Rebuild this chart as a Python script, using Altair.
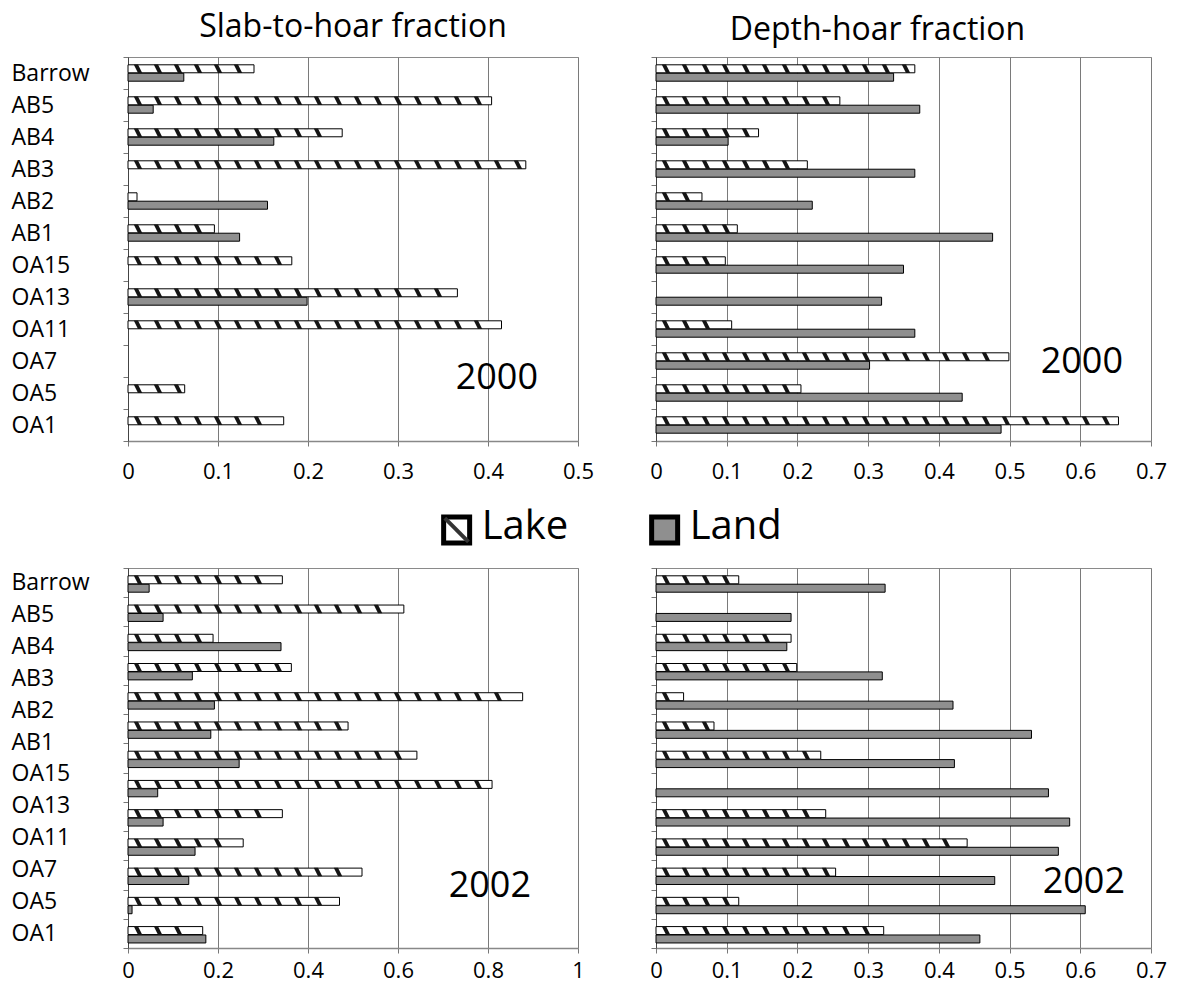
import altair as alt
import pandas as pd

FONT = "Open Sans"
LAND_GRAY = "#8f8f8f"

# Site labels, listed top to bottom
SITES = ["Barrow", "AB5", "AB4", "AB3", "AB2", "AB1",
         "OA15", "OA13", "OA11", "OA7", "OA5", "OA1"]

# 2000: one bar group per site
ROWS_2000 = SITES
# 2002: thirteen bar groups under the same twelve labels
ROWS_2002 = ["g1", "g2", "g3", "g4", "g5", "g6", "g7",
             "g8", "g9", "g10", "g11", "g12", "g13"]

# Slab-to-hoar fraction, 2000
SLAB_2000_LAKE = [0.140, 0.404, 0.238, 0.442, 0.010, 0.096, 0.182, 0.366, 0.415, None, 0.063, 0.173]
SLAB_2000_LAND = [0.062, 0.028, 0.162, None, 0.155, 0.124, None, 0.199, None, None, None, None]

# Depth-hoar fraction, 2000
DEPTH_2000_LAKE = [0.366, 0.260, 0.145, 0.214, 0.065, 0.115, 0.098, None, 0.107, 0.499, 0.205, 0.654]
DEPTH_2000_LAND = [0.336, 0.373, 0.102, 0.366, 0.221, 0.476, 0.350, 0.319, 0.366, 0.302, 0.433, 0.488]

# Slab-to-hoar fraction, 2002
SLAB_2002_LAKE = [0.343, 0.613, 0.189, 0.363, 0.877, 0.489, 0.642, 0.809, 0.343, 0.256, 0.520, 0.470, 0.166]
SLAB_2002_LAND = [0.047, 0.078, 0.340, 0.143, 0.192, 0.184, 0.247, 0.066, 0.078, 0.149, 0.135, 0.009, 0.173]

# Depth-hoar fraction, 2002
DEPTH_2002_LAKE = [0.117, None, 0.191, 0.199, 0.039, 0.082, 0.233, None, 0.240, 0.440, 0.254, 0.117, 0.322]
DEPTH_2002_LAND = [0.324, 0.191, 0.185, 0.320, 0.420, 0.531, 0.422, 0.555, 0.585, 0.569, 0.479, 0.607, 0.458]

# Axis tick values
TICKS_05 = [0, 0.1, 0.2, 0.3, 0.4, 0.5]
TICKS_07 = [0, 0.1, 0.2, 0.3, 0.4, 0.5, 0.6, 0.7]
TICKS_10 = [0, 0.2, 0.4, 0.6, 0.8, 1.0]

KINDS = ["Lake", "Land"]

# slanted "\" dash used for the hatched lake bars
DASH_SHAPE = "M-1,-1 L0,-1 L1,1 L0,1 Z"
SQUARE_SHAPE = "M-1,-1 H1 V1 H-1 Z"
DIAG_SHAPE = "M-1,-1 L1,1"


def long_frame(rows, lake, land):
    recs = []
    for r, a, b in zip(rows, lake, land):
        if a is not None:
            recs.append({"row": r, "kind": "Lake", "value": a})
        if b is not None:
            recs.append({"row": r, "kind": "Land", "value": b})
    return pd.DataFrame(recs)


def panel(rows, lake, land, xmax, ticks, width, height, year, year_row,
          year_dx, year_dy, group_pad, x_label_pad, labels=None,
          label_pad=0.5, title=None, title_y=-45, title_dx=0):
    df = long_frame(rows, lake, land)
    xscale = alt.Scale(domain=[0, xmax], nice=False, zero=True)
    xaxis = alt.Axis(values=ticks, format="~g", title=None, grid=True,
                     gridColor="#7a7a7a", gridWidth=1, tickSize=5,
                     tickColor="#777", domainColor="#888", domainWidth=1.5,
                     labelPadding=x_label_pad, labelFontSize=22,
                     labelFont=FONT, labelColor="black", labelFlush=False)
    y = alt.Y("row:N", sort=rows,
              scale=alt.Scale(domain=rows, paddingInner=0, paddingOuter=0),
              axis=alt.Axis(orient="left", labels=False, title=None,
                            tickBand="extent", tickSize=5, tickColor="#777",
                            domainColor="#444", grid=False))
    yoff = alt.YOffset("kind:N", sort=KINDS,
                       scale=alt.Scale(domain=KINDS, paddingInner=0.05,
                                       paddingOuter=group_pad))
    base = alt.Chart(df)

    land_bars = base.transform_filter("datum.kind == 'Land'").mark_bar(
        fill=LAND_GRAY, stroke="black", strokeWidth=1, opacity=1
    ).encode(x=alt.X("value:Q", scale=xscale, axis=xaxis), y=y, yOffset=yoff)

    lake_bars = base.transform_filter("datum.kind == 'Lake'").mark_bar(
        fill="white", stroke="black", strokeWidth=1, opacity=1
    ).encode(x=alt.X("value:Q", scale=xscale, axis=xaxis), y=y, yOffset=yoff)

    step = xmax * 20.0 / width
    dashes = base.transform_filter("datum.kind == 'Lake'").transform_calculate(
        pos=f"sequence({step * 0.5}, datum.value - {step * 0.3}, {step})"
    ).transform_flatten(["pos"]).mark_point(
        shape=DASH_SHAPE, filled=True, color="#151515", strokeWidth=0,
        size=72, opacity=1
    ).encode(x=alt.X("pos:Q", scale=xscale, axis=xaxis), y=y, yOffset=yoff)

    year_df = pd.DataFrame({"row": [year_row], "year": [year]})
    year_text = alt.Chart(year_df).mark_text(
        font=FONT, fontSize=36, align="right", baseline="middle",
        dx=year_dx, dy=year_dy, color="black"
    ).encode(x=alt.datum(xmax, scale=xscale, axis=xaxis), y=y, text="year:N")

    layers = [land_bars, lake_bars, dashes, year_text]

    if title is not None:
        title_df = pd.DataFrame({"title": [title]})
        layers.append(alt.Chart(title_df).mark_text(
            font=FONT, fontSize=32, align="center", baseline="top",
            color="black", dx=title_dx
        ).encode(x=alt.value(width / 2), y=alt.value(title_y), text="title:N"))

    bars = alt.layer(*layers)

    if labels is not None:
        lab_df = pd.DataFrame({"label": labels})
        lab = alt.Chart(lab_df).mark_point(opacity=0).encode(
            y=alt.Y("label:N", sort=labels,
                    scale=alt.Scale(type="point", domain=labels, padding=label_pad),
                    axis=alt.Axis(orient="left", title=None, domain=False,
                                  ticks=False, grid=False, labelAlign="left",
                                  labelBaseline="middle", labelPadding=117,
                                  labelFontSize=23, labelFont=FONT,
                                  labelColor="black"))
        )
        chart = alt.layer(bars, lab).resolve_scale(y="independent")
    else:
        chart = bars

    return chart.properties(width=width, height=height)


top_left = panel(ROWS_2000, SLAB_2000_LAKE, SLAB_2000_LAND, 0.5, TICKS_05,
                 450, 384, "2000", "OA5", -40, -15, 0.93, 15,
                 labels=SITES, label_pad=0.5,
                 title="Slab-to-hoar fraction", title_y=-45)
top_right = panel(ROWS_2000, DEPTH_2000_LAKE, DEPTH_2000_LAND, 0.7, TICKS_07,
                  495, 384, "2000", "OA7", -28, 1, 0.93, 15,
                  title="Depth-hoar fraction", title_y=-42, title_dx=-26)
bottom_left = panel(ROWS_2002, SLAB_2002_LAKE, SLAB_2002_LAND, 1.0, TICKS_10,
                    450, 380, "2002", "g11", -47, 11, 0.78, 7,
                    labels=SITES, label_pad=11 / 24)
bottom_right = panel(ROWS_2002, DEPTH_2002_LAKE, DEPTH_2002_LAND, 0.7, TICKS_07,
                     495, 380, "2002", "g11", -26, 7, 0.78, 7)

# Lake / Land key between the two rows
KEY_H = 47
key_df = pd.DataFrame({"kind": KINDS})
kx = alt.X("kind:N", sort=KINDS,
           scale=alt.Scale(type="point", domain=KINDS, padding=1, align=0.79),
           axis=None)
ky = alt.value(33)
key_base = alt.Chart(key_df)
land_swatch = key_base.transform_filter("datum.kind == 'Land'").mark_point(
    shape=SQUARE_SHAPE, fill=LAND_GRAY, stroke="black", strokeWidth=5,
    size=676, opacity=1, filled=False).encode(x=kx, y=ky)
lake_swatch = key_base.transform_filter("datum.kind == 'Lake'").mark_point(
    shape=SQUARE_SHAPE, fill="white", stroke="black", strokeWidth=5,
    size=676, opacity=1, filled=False).encode(x=kx, y=ky)
lake_diag = key_base.transform_filter("datum.kind == 'Lake'").mark_point(
    shape=DIAG_SHAPE, stroke="#333", strokeWidth=4, size=560, opacity=1,
    filled=False).encode(x=kx, y=ky)
key_text = key_base.mark_text(
    font=FONT, fontSize=40, align="left", baseline="top",
    dx=25, dy=-14, color="black").encode(x=kx, text="kind:N")
key = alt.layer(land_swatch, lake_swatch, lake_diag, key_text).properties(
    width=624, height=KEY_H, view=alt.ViewConfig(stroke=None))

top_row = alt.hconcat(top_left, top_right, spacing=78, bounds="flush")
bottom_row = alt.hconcat(bottom_left, bottom_right, spacing=78, bounds="flush")

chart = alt.vconcat(top_row, key, bottom_row, spacing=14).properties(
    padding={"left": 10, "top": 10, "right": 5, "bottom": 0},
    background="white",
).configure_view(stroke="#8a8a8a", strokeWidth=1).configure_axis(
    labelFont=FONT
)

chart.save("out.html", embed_options={"renderer": "svg", "actions": False})
